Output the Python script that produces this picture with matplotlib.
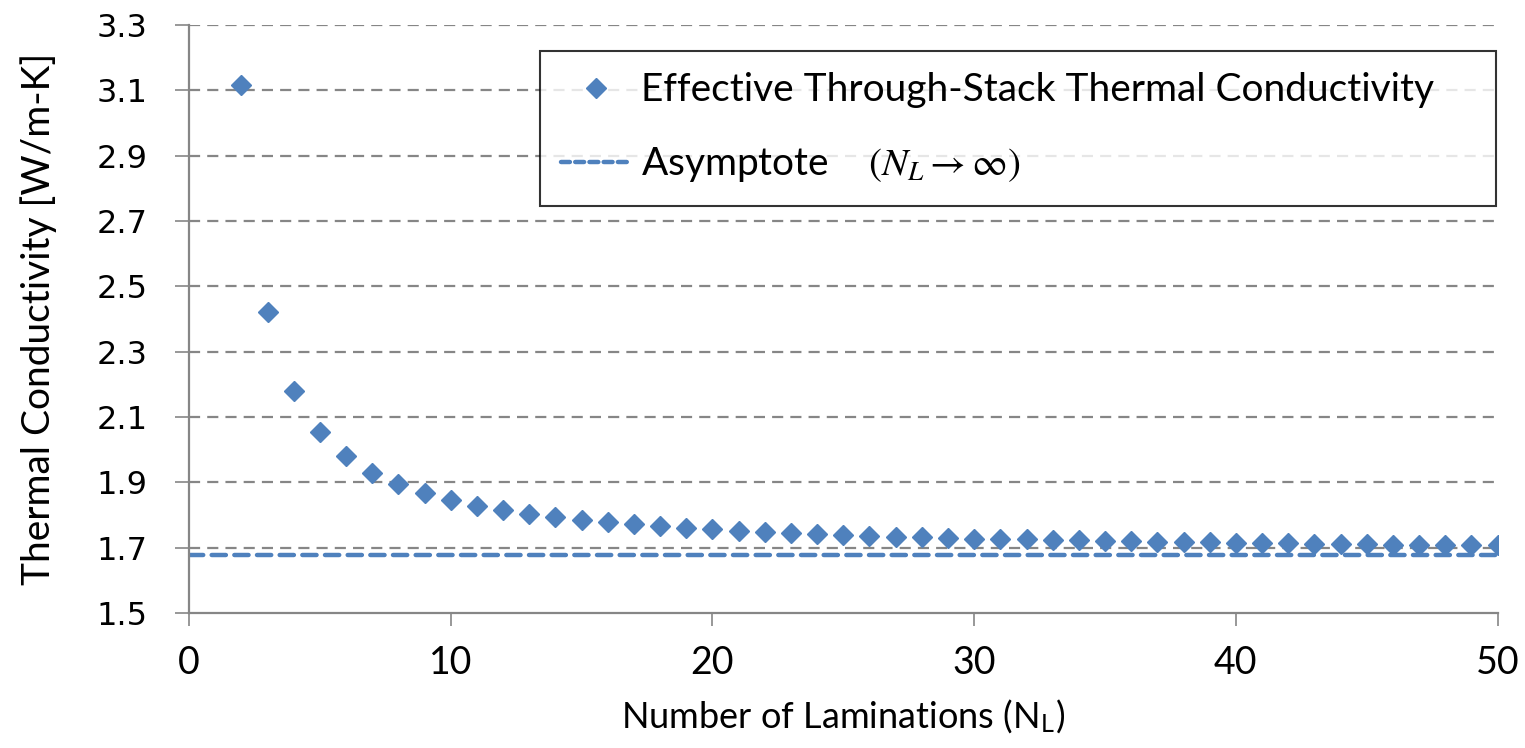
import matplotlib
matplotlib.use('Agg')
import matplotlib.pyplot as plt
from matplotlib.lines import Line2D

# laminations and effective through-stack conductivity
n_lam = list(range(2, 51))
k_eff = [3.115, 2.421, 2.179, 2.055, 1.980, 1.930, 1.894, 1.867, 1.846, 1.829,
         1.815, 1.803, 1.793, 1.785, 1.778, 1.771, 1.766, 1.761, 1.756, 1.752,
         1.749, 1.745, 1.742, 1.739, 1.737, 1.734, 1.732, 1.730, 1.728, 1.727,
         1.725, 1.723, 1.722, 1.721, 1.719, 1.718, 1.717, 1.716, 1.715, 1.714,
         1.713, 1.712, 1.711, 1.710, 1.709, 1.709, 1.708, 1.707, 1.707]
asym_x = [0, 50]
asym_k = [1.676, 1.676]

y_ticks = [1.5, 1.7, 1.9, 2.1, 2.3, 2.5, 2.7, 2.9, 3.1, 3.3]
x_ticks = [0, 10, 20, 30, 40, 50]

blue = '#4F81BD'
grey = '#868686'
narrow = ['Lato', 'DejaVu Sans']

plt.rcParams['mathtext.fontset'] = 'stix'

fig = plt.figure(figsize=(15.25, 7.48), dpi=100)
ax = fig.add_axes([0.124, 0.1805, 0.858, 0.786])

for y in y_ticks[1:]:
	ax.axhline(y, color=grey, lw=1.6, ls=(0, (5, 3.2)), zorder=1)

ax.plot(n_lam, k_eff, ls='none', marker='D', ms=10.5, color=blue, mec=blue, zorder=3,
	label='Effective Through-Stack Thermal Conductivity')
ax.plot(asym_x, asym_k, color=blue, lw=3.2, ls=(0, (3.2, 1.9)), dash_capstyle='round', zorder=2,
	label='Asymptote    $(N_L \\rightarrow \\infty)$')

ax.set_xlim(0, 50)
ax.set_ylim(1.5, 3.3)
ax.set_xticks(x_ticks)
ax.set_yticks(y_ticks)
ax.set_yticklabels(['%.1f' % v for v in y_ticks], fontsize=23, family='DejaVu Sans')
ax.set_xticklabels([str(v) for v in x_ticks], fontsize=27, family=narrow)
ax.tick_params(axis='y', length=10, width=1.2, color=grey, pad=20)
ax.tick_params(axis='x', length=9, width=1.2, color=grey, pad=14)

for s in ['top', 'right']:
	ax.spines[s].set_visible(False)
for s in ['left', 'bottom']:
	ax.spines[s].set_color(grey)
	ax.spines[s].set_linewidth(1.6)

ax.set_ylabel('Thermal Conductivity [W/m-K]', fontsize=28, family=narrow, labelpad=28)
ax.set_xlabel('Number of Laminations (N$_\\mathregular{L}$)', fontsize=26, family=narrow, labelpad=12)

handles = [Line2D([], [], ls='none', marker='D', ms=10, color=blue),
	Line2D([], [], color=blue, lw=3.2, ls=(0, (2, 1.2)), dash_capstyle='round')]
labels = ['Effective Through-Stack Thermal Conductivity', 'Asymptote    $(N_L \\rightarrow \\infty)$']
leg = ax.legend(handles, labels, loc='upper left', bbox_to_anchor=(0.268, 0.956, 0.731, 0.0),
	mode='expand', prop={'family': narrow, 'size': 28}, frameon=True, fancybox=False,
	edgecolor='black', handlelength=1.8, handletextpad=0.25, labelspacing=0.95,
	borderpad=0.55, borderaxespad=0)
leg.get_frame().set_linewidth(1.5)
leg.set_zorder(5)

fig.savefig('out.png', dpi=100, facecolor='white')
